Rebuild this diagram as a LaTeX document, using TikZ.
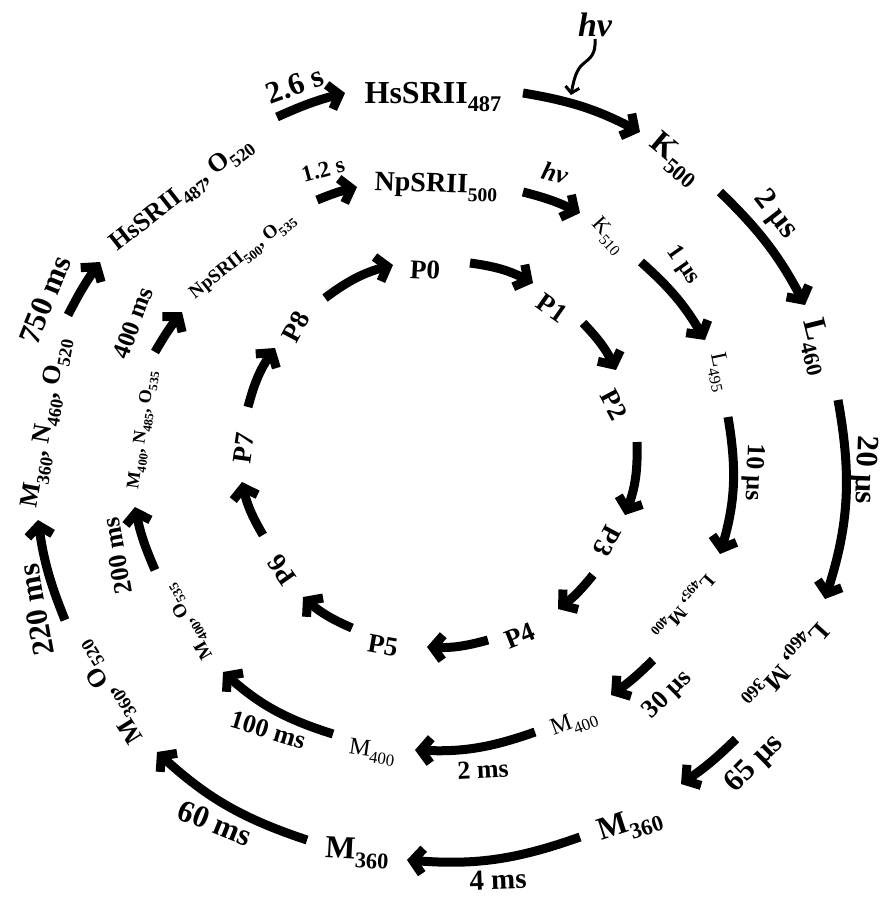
\documentclass[tikz,border=0pt]{standalone}
\usepackage{fontspec}
\setmainfont{Liberation Serif}
\usepackage{graphicx}
\usetikzlibrary{arrows.meta}
\newcommand\sbx[1]{\raisebox{-0.28em}{\scalebox{0.7}{#1}}}
\begin{document}
\begin{tikzpicture}[x=1pt,y=-1pt,
  every node/.style={inner sep=0pt,outer sep=0pt},
  oS/.style={font=\fontsize{32}{32}\selectfont\bfseries},
  oT/.style={font=\fontsize{31}{31}\selectfont\bfseries},
  oC/.style={font=\fontsize{26}{26}\selectfont\bfseries},
  mS/.style={font=\fontsize{24}{24}\selectfont},
  mT/.style={font=\fontsize{26}{26}\selectfont\bfseries},
  mC/.style={font=\fontsize{19}{19}\selectfont\bfseries},
  iS/.style={font=\fontsize{27}{27}\selectfont\bfseries},
  hvs/.style={font=\fontsize{#1}{#1}\selectfont\bfseries\itshape},
  arr/.style={line width=9pt,-{Straight Barb[length=10pt,width=25pt]}},
  wav/.style={line width=3pt,-{Straight Barb[length=6pt,width=14pt]}}
]
\useasboundingbox (0,0) rectangle (883,897);
% ---------- outer ring ----------
\node[oS] (oHs) at (433,97) {HsSRII\sbx{487}};
\node[oS,rotate=-40] (oK) at (675,160) {K\sbx{500}};
\node[oS,rotate=-76] (oL) at (816,347) {L\sbx{460}};
\node[oT,rotate=-92] (o20) at (864,470) {20 μs};
\node[oC,rotate=-132] (oLM) at (785,665) {L\sbx{460}, M\sbx{360}};
\node[oT,rotate=45] (o65) at (755,764) {65 μs};
\node[oS,rotate=18] (oM1) at (630,825) {M\sbx{360}};
\node[oT,font=\fontsize{29}{29}\selectfont\bfseries,rotate=2] (o4) at (498,880) {4 ms};
\node[oS,rotate=-3] (oM2) at (357,853) {M\sbx{360}};
\node[oT,rotate=-22] (o60) at (215,823) {60 ms};
\node[oC,rotate=122] (oMO) at (110,692) {M\sbx{360}, O\sbx{520}};
\node[oT,rotate=100] (o220) at (36,610) {220 ms};
\node[oC,rotate=80] (oMNO) at (47,423) {M\sbx{360}, N\sbx{460}, O\sbx{520}};
\node[oT,rotate=68] (o750) at (45,300) {750 ms};
\node[oC,rotate=38] (oHsO) at (182,195) {HsSRII\sbx{487}, O\sbx{520}};
\node[oT,rotate=20] (o26) at (295,85) {2.6 s};
\node[oT,rotate=-52] (o2u) at (775,215) {2 μs};
\node[hvs=34] (ohv) at (595,25) {hν};
% ---------- middle ring ----------
\node[font=\fontsize{28}{28}\selectfont\bfseries,rotate=-2] (mNp) at (436,187) {NpSRII\sbx{500}};
\node[hvs=26,rotate=-15] (mhv) at (555,173) {hν};
\node[mS,font=\fontsize{22}{22}\selectfont,rotate=-48] (mK) at (608,236) {K\sbx{510}};
\node[mT,font=\fontsize{24}{24}\selectfont\bfseries,rotate=-55] (m1u) at (683,265) {1 μs};
\node[mS,font=\fontsize{23}{23}\selectfont,rotate=-78] (mL) at (719,372) {L\sbx{495}};
\node[mT,rotate=-92] (m10) at (753,472) {10 μs};
\node[mC,rotate=-131] (mLM) at (683,606) {L\sbx{495}, M\sbx{400}};
\node[mT,rotate=45] (m30) at (668,695) {30 μs};
\node[mS,rotate=20] (mM1) at (574,723) {M\sbx{400}};
\node[mT,rotate=3] (m2) at (483,770) {2 ms};
\node[mS,rotate=-8] (mM2) at (372,752) {M\sbx{400}};
\node[mT,rotate=-17] (m100) at (268,730) {100 ms};
\node[mC,rotate=120] (mMO) at (189,622) {M\sbx{400}, O\sbx{535}};
\node[mT,rotate=100] (m200) at (117,556) {200 ms};
\node[mC,font=\fontsize{18}{18}\selectfont\bfseries,rotate=82] (mMNO) at (143,430) {M\sbx{400}, N\sbx{485}, O\sbx{535}};
\node[mT,font=\fontsize{25}{25}\selectfont\bfseries,rotate=70] (m400) at (133,323) {400 ms};
\node[mC,rotate=38] (mNpO) at (243,257) {NpSRII\sbx{500}, O\sbx{535}};
\node[mT,font=\fontsize{23}{23}\selectfont\bfseries,rotate=15] (m12) at (323,170) {1.2 s};
% ---------- inner ring ----------
\node[iS,rotate=-3] (P0) at (425,270) {P0};
\node[iS,rotate=-35] (P1) at (552,308) {P1};
\node[iS,rotate=-62] (P2) at (614,405) {P2};
\node[iS,rotate=-118] (P3) at (607,541) {P3};
\node[iS,rotate=22] (P4) at (520,636) {P4};
\node[iS,rotate=-10] (P5) at (383,646) {P5};
\node[iS,rotate=125] (P6) at (282,570) {P6};
\node[iS,rotate=82] (P7) at (244,448) {P7};
\node[iS,rotate=62] (P8) at (296,327) {P8};
% ---------- arrow end points ----------
\coordinate (i1s) at (470,263); \coordinate (i1e) at (533,283);
\coordinate (i2s) at (583,323); \coordinate (i2e) at (616,370);
\coordinate (i3s) at (637,442); \coordinate (i3e) at (625,515);
\coordinate (i4s) at (593,575); \coordinate (i4e) at (558,609);
\coordinate (i5s) at (488,640); \coordinate (i5e) at (427,647);
\coordinate (i6s) at (352,628); \coordinate (i6e) at (303,597);
\coordinate (i7s) at (263,535); \coordinate (i7e) at (242,482);
\coordinate (i8s) at (248,407); \coordinate (i8e) at (275,348);
\coordinate (i9s) at (325,298); \coordinate (i9e) at (393,265);
\coordinate (m1s) at (317,200); \coordinate (m1e) at (357,187);
\coordinate (m2s) at (523,192); \coordinate (m2e) at (580,213);
\coordinate (m3s) at (641,262); \coordinate (m3e) at (705,340);
\coordinate (m4s) at (728,417); \coordinate (m4e) at (720,554);
\coordinate (m5s) at (653,660); \coordinate (m5e) at (611,695);
\coordinate (m6s) at (535,732); \coordinate (m6e) at (415,750);
\coordinate (m7s) at (333,734); \coordinate (m7e) at (223,672);
\coordinate (m8s) at (155,570); \coordinate (m8e) at (135,507);
\coordinate (m9s) at (155,352); \coordinate (m9e) at (182,312);
\coordinate (o1s) at (277,117); \coordinate (o1e) at (345,93);
\coordinate (o2s) at (523,93);  \coordinate (o2e) at (640,132);
\coordinate (o3s) at (720,192); \coordinate (o3e) at (805,305);
\coordinate (o4s) at (838,400); \coordinate (o4e) at (825,599);
\coordinate (o5s) at (736,739); \coordinate (o5e) at (681,784);
\coordinate (o6s) at (580,837); \coordinate (o6e) at (407,860);
\coordinate (o7s) at (307,840); \coordinate (o7e) at (157,752);
\coordinate (o8s) at (65,620);  \coordinate (o8e) at (38,520);
\coordinate (o9s) at (68,315);  \coordinate (o9e) at (100,262);
\coordinate (hvs) at (595,39);  \coordinate (hve) at (571,95);
% ---------- arrows ----------
\draw[arr] (i1s) to[bend left=10] (i1e);
\draw[arr] (i2s) to[bend left=9] (i2e);
\draw[arr] (i3s) to[bend left=11] (i3e);
\draw[arr] (i4s) to[bend left=7] (i4e);
\draw[arr] (i5s) to[bend left=9] (i5e);
\draw[arr] (i6s) to[bend left=9] (i6e);
\draw[arr] (i7s) to[bend left=9] (i7e);
\draw[arr] (i8s) to[bend left=10] (i8e);
\draw[arr] (i9s) to[bend left=11] (i9e);
\draw[arr] (m1s) to[bend left=4] (m1e);
\draw[arr] (m2s) to[bend left=6] (m2e);
\draw[arr] (m3s) to[bend left=9] (m3e);
\draw[arr] (m4s) to[bend left=13] (m4e);
\draw[arr] (m5s) to[bend left=5] (m5e);
\draw[arr] (m6s) to[bend left=11] (m6e);
\draw[arr] (m7s) to[bend left=12] (m7e);
\draw[arr] (m8s) to[bend left=6] (m8e);
\draw[arr] (m9s) to[bend left=4] (m9e);
\draw[arr] (o1s) to[bend left=5] (o1e);
\draw[arr] (o2s) to[bend left=9] (o2e);
\draw[arr] (o3s) to[bend left=9] (o3e);
\draw[arr] (o4s) to[bend left=14] (o4e);
\draw[arr] (o5s) to[bend left=5] (o5e);
\draw[arr] (o6s) to[bend left=12] (o6e);
\draw[arr] (o7s) to[bend left=12] (o7e);
\draw[arr] (o8s) to[bend left=7] (o8e);
\draw[arr] (o9s) to[bend left=4] (o9e);
\draw[wav] (hvs) .. controls (596,55) and (590,58) .. (583,64) .. controls (577,69) and (574,78) .. (hve);
\end{tikzpicture}
\end{document}
